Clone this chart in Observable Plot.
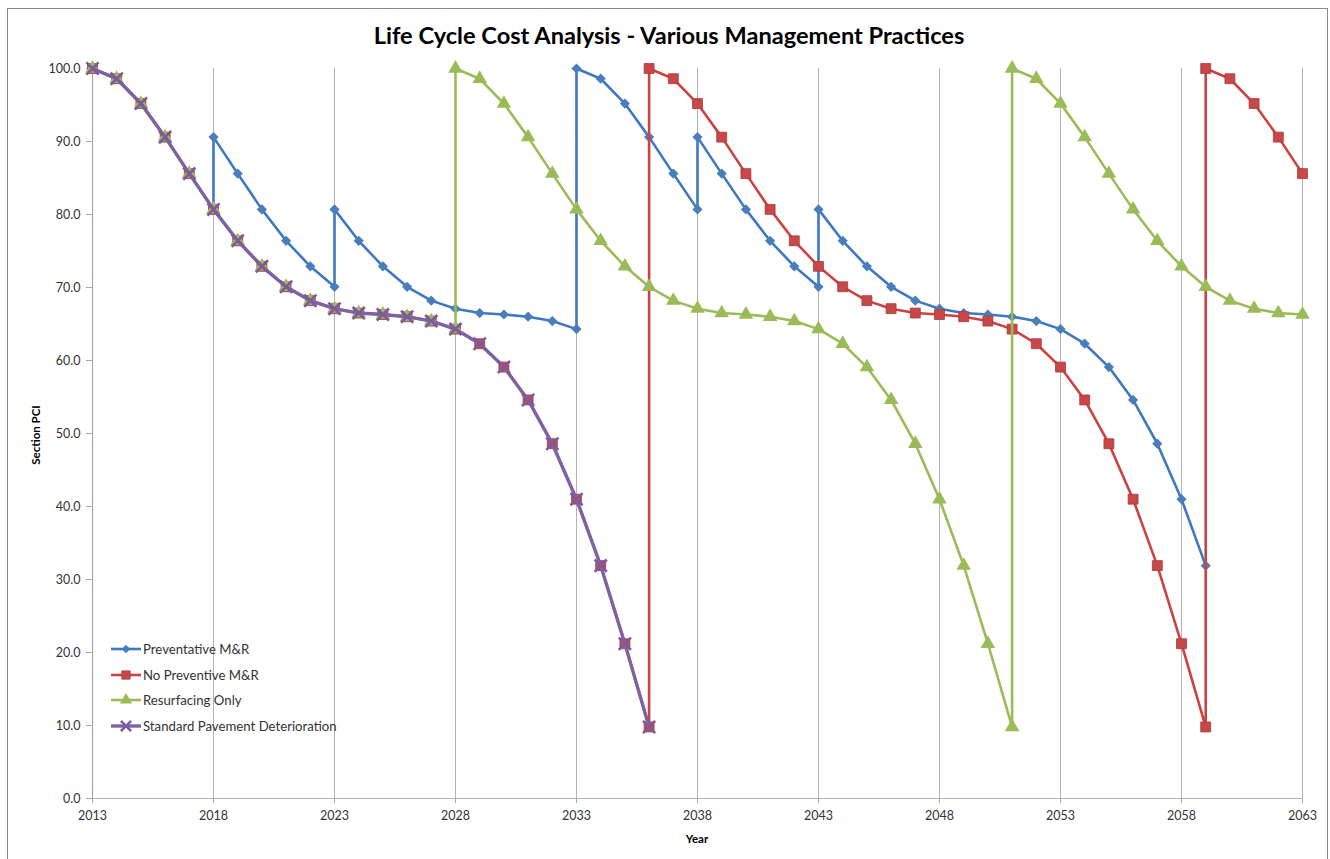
<!DOCTYPE html>
<html>
<head>
<meta charset="utf-8">
<script src="https://cdn.jsdelivr.net/npm/d3@7"></script>
<script src="https://cdn.jsdelivr.net/npm/@observablehq/plot@0.6"></script>
<style>
  body { margin: 0; background: #fff; font-family: Lato, "Open Sans", sans-serif; }
  #wrap { position: relative; width: 1330px; height: 859px; overflow: hidden; background: #fff; }
  #frame { position: absolute; left: 7px; top: 8px; width: 1321px; height: 900px; border: 1px solid #8a8a8a; box-sizing: border-box; pointer-events: none; }
  #title { height: 50px; position: relative; }
  #title div { position: absolute; left: 0; width: 1338px; top: 21px; text-align: center; font-weight: bold; font-size: 23.6px; color: #000; }
  #chart svg { display: block; }
  .axlabel { position: absolute; font-weight: bold; font-size: 11.5px; color: #000; }
  #ylab { left: 35px; top: 435px; transform: translate(-50%, -50%) rotate(-90deg); white-space: nowrap; }
  #xlab { left: 697px; top: 838px; transform: translate(-50%, -50%); }
  #legend { position: absolute; left: 110px; top: 636px; font-size: 13.2px; color: #333; }
  #legend .row { height: 25.8px; display: flex; align-items: center; }
  #legend svg { display: block; margin-right: 1px; }
</style>
</head>
<body>
<div id="wrap">
  <div id="title"><div>Life Cycle Cost Analysis - Various Management Practices</div></div>
  <div id="chart"></div>
  <div class="axlabel" id="ylab">Section PCI</div>
  <div class="axlabel" id="xlab">Year</div>
  <div id="legend"></div>
  <div id="frame"></div>
</div>
<script>
// ---- Data ----
const xTicks = [2013, 2018, 2023, 2028, 2033, 2038, 2043, 2048, 2053, 2058, 2063];
const yTicks = [0, 10, 20, 30, 40, 50, 60, 70, 80, 90, 100];

const seriesNames = ["Preventative M&R", "No Preventive M&R", "Resurfacing Only", "Standard Pavement Deterioration"];

const preventativeYears = [2013, 2014, 2015, 2016, 2017, 2018, 2018, 2019, 2020, 2021, 2022, 2023, 2023, 2024, 2025, 2026, 2027, 2028, 2029, 2030, 2031, 2032, 2033, 2033, 2034, 2035, 2036, 2037, 2038, 2038, 2039, 2040, 2041, 2042, 2043, 2043, 2044, 2045, 2046, 2047, 2048, 2049, 2050, 2051, 2052, 2053, 2054, 2055, 2056, 2057, 2058, 2059];
const preventativePCI = [100, 98.6, 95.2, 90.6, 85.6, 80.7, 90.6, 85.6, 80.7, 76.4, 72.9, 70.1, 80.7, 76.4, 72.9, 70.1, 68.2, 67.1, 66.5, 66.3, 66.0, 65.4, 64.3, 100, 98.6, 95.2, 90.6, 85.6, 80.7, 90.6, 85.6, 80.7, 76.4, 72.9, 70.1, 80.7, 76.4, 72.9, 70.1, 68.2, 67.1, 66.5, 66.3, 66.0, 65.4, 64.3, 62.3, 59.1, 54.6, 48.6, 41.0, 31.9];

const noPreventiveYears = [2013, 2014, 2015, 2016, 2017, 2018, 2019, 2020, 2021, 2022, 2023, 2024, 2025, 2026, 2027, 2028, 2029, 2030, 2031, 2032, 2033, 2034, 2035, 2036, 2036, 2037, 2038, 2039, 2040, 2041, 2042, 2043, 2044, 2045, 2046, 2047, 2048, 2049, 2050, 2051, 2052, 2053, 2054, 2055, 2056, 2057, 2058, 2059, 2059, 2060, 2061, 2062, 2063];
const noPreventivePCI = [100, 98.6, 95.2, 90.6, 85.6, 80.7, 76.4, 72.9, 70.1, 68.2, 67.1, 66.5, 66.3, 66.0, 65.4, 64.3, 62.3, 59.1, 54.6, 48.6, 41.0, 31.9, 21.2, 9.8, 100, 98.6, 95.2, 90.6, 85.6, 80.7, 76.4, 72.9, 70.1, 68.2, 67.1, 66.5, 66.3, 66.0, 65.4, 64.3, 62.3, 59.1, 54.6, 48.6, 41.0, 31.9, 21.2, 9.8, 100, 98.6, 95.2, 90.6, 85.6];

const resurfacingYears = [2013, 2014, 2015, 2016, 2017, 2018, 2019, 2020, 2021, 2022, 2023, 2024, 2025, 2026, 2027, 2028, 2028, 2029, 2030, 2031, 2032, 2033, 2034, 2035, 2036, 2037, 2038, 2039, 2040, 2041, 2042, 2043, 2044, 2045, 2046, 2047, 2048, 2049, 2050, 2051, 2051, 2052, 2053, 2054, 2055, 2056, 2057, 2058, 2059, 2060, 2061, 2062, 2063];
const resurfacingPCI = [100, 98.6, 95.2, 90.6, 85.6, 80.7, 76.4, 72.9, 70.1, 68.2, 67.1, 66.5, 66.3, 66.0, 65.4, 64.3, 100, 98.6, 95.2, 90.6, 85.6, 80.7, 76.4, 72.9, 70.1, 68.2, 67.1, 66.5, 66.3, 66.0, 65.4, 64.3, 62.3, 59.1, 54.6, 48.6, 41.0, 31.9, 21.2, 9.8, 100, 98.6, 95.2, 90.6, 85.6, 80.7, 76.4, 72.9, 70.1, 68.2, 67.1, 66.5, 66.3];

const standardYears = [2013, 2014, 2015, 2016, 2017, 2018, 2019, 2020, 2021, 2022, 2023, 2024, 2025, 2026, 2027, 2028, 2029, 2030, 2031, 2032, 2033, 2034, 2035, 2036];
const standardPCI = [100, 98.6, 95.2, 90.6, 85.6, 80.7, 76.4, 72.9, 70.1, 68.2, 67.1, 66.5, 66.3, 66.0, 65.4, 64.3, 62.3, 59.1, 54.6, 48.6, 41.0, 31.9, 21.2, 9.8];

// ---- Styles ----
const styles = [
  {name: seriesNames[0], years: preventativeYears, pci: preventativePCI, line: "#3e78c2", fill: "#4a7ebb", stroke: "none", symbol: "diamond2", r: 4.6, sw: 2.6, msw: 0},
  {name: seriesNames[1], years: noPreventiveYears, pci: noPreventivePCI, line: "#cc4240", fill: "#c8484a", stroke: "#a83a3a", symbol: "square", r: 5.6, sw: 2.6, msw: 0.8},
  {name: seriesNames[2], years: resurfacingYears, pci: resurfacingPCI, line: "#9bbb59", fill: "#9bbb59", stroke: "none", symbol: "triangle", r: 5.4, sw: 2.6, msw: 0},
  {name: seriesNames[3], years: standardYears, pci: standardPCI, line: "#7f62a3", fill: "none", stroke: "#7a5c9e", symbol: "times", r: 5.6, sw: 3.4, msw: 2.6}
];

const toRows = s => s.years.map((y, i) => ({year: y, pci: s.pci[i]}));

const marks = [
  Plot.gridX(xTicks, {stroke: "#b4b4b4", strokeOpacity: 1, strokeWidth: 1}),
  Plot.ruleY([0], {stroke: "#b4b4b4", strokeWidth: 1.2}),
  Plot.ruleX([2013], {stroke: "#a8a8a8", strokeWidth: 1.2}),
  Plot.axisX({ticks: xTicks, tickFormat: d => String(d), tickSize: 5, tickPadding: 8, label: null, stroke: "#a8a8a8", fill: "#333"}),
  Plot.axisY({ticks: yTicks, tickFormat: d => d.toFixed(1), tickSize: 6, tickPadding: 6, label: null, stroke: "#a8a8a8", fill: "#333"})
];
for (const s of styles) {
  const rows = toRows(s);
  marks.push(Plot.line(rows, {x: "year", y: "pci", stroke: s.line, strokeWidth: s.sw, curve: "linear"}));
  marks.push(Plot.dot(rows, {x: "year", y: "pci", symbol: s.symbol, r: s.r, fill: s.fill, stroke: s.stroke, strokeWidth: s.msw}));
}

const chart = Plot.plot({
  width: 1330,
  height: 809,
  marginLeft: 92,
  marginRight: 28,
  marginTop: 18,
  marginBottom: 61,
  x: {domain: [2013, 2063]},
  y: {domain: [0, 100]},
  style: {fontFamily: "Lato, 'Open Sans', sans-serif", fontSize: "12.5px", background: "transparent", color: "#333"},
  marks
});
document.getElementById("chart").appendChild(chart);

// ---- Legend ----
const symMap = {diamond2: d3.symbolDiamond2, square: d3.symbolSquare, triangle: d3.symbolTriangle, times: d3.symbolTimes};
const legend = d3.select("#legend");
for (const s of styles) {
  const row = legend.append("div").attr("class", "row");
  const svg = row.append("svg").attr("width", 32).attr("height", 16);
  svg.append("line").attr("x1", 1).attr("x2", 31).attr("y1", 8).attr("y2", 8).attr("stroke", s.line).attr("stroke-width", s.sw);
  svg.append("path").attr("transform", "translate(16,8)")
    .attr("d", d3.symbol(symMap[s.symbol], Math.PI * s.r * s.r * 0.7)())
    .attr("fill", s.fill).attr("stroke", s.stroke).attr("stroke-width", s.msw);
  row.append("span").text(s.name);
}
</script>
</body>
</html>
